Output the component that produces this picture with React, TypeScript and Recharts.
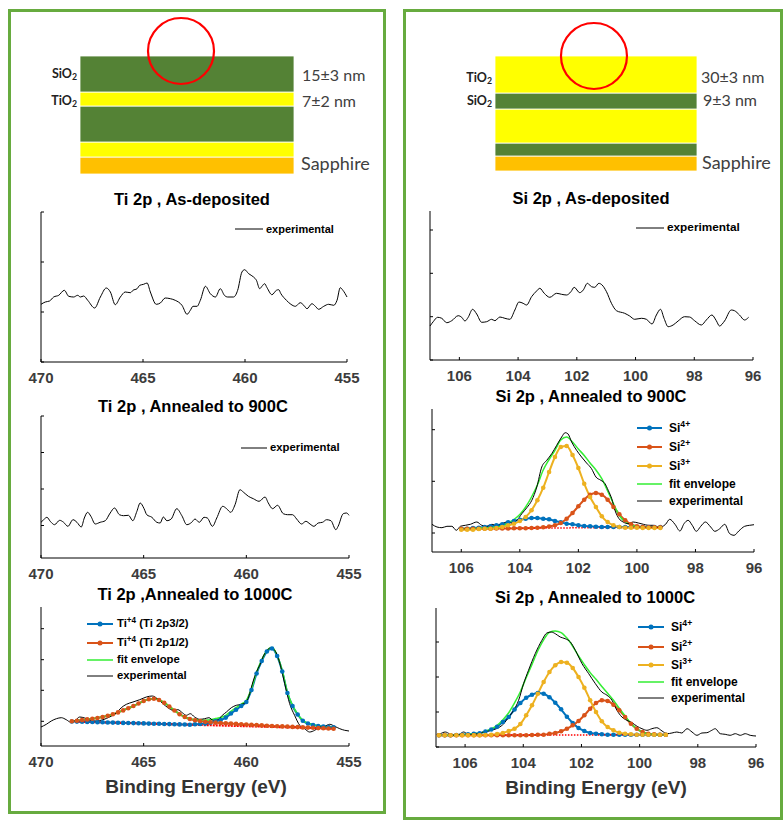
import React from "react";
import { LineChart, Line, XAxis, YAxis, Legend, BarChart, Bar, ReferenceDot } from "recharts";

const FONT = "Arial, 'Liberation Sans', Helvetica, sans-serif";
const CAL = "Lato, 'Open Sans', sans-serif";
const BLUE = "#0072BD";
const ORANGE = "#D95319";
const GOLD = "#EDB120";
const FIT = "#33ee33";
const BOX = "#67ab3f";
const SIO2 = "#548235";
const TIO2 = "#FFFF00";
const SAPPHIRE = "#FFC000";

// ---------- layer stacks (bottom layer first, drawn thickness) ----------
const leftStackMaterials = ["Sapphire", "TiO2", "SiO2", "TiO2", "SiO2"];
const leftStackThickness = [17, 15, 36, 14, 36];
const rightStackMaterials = ["Sapphire", "SiO2", "TiO2", "SiO2", "TiO2"];
const rightStackThickness = [15, 13, 34, 16, 37];

// ---------- energy ticks ----------
const tiTicks = [455, 460, 465, 470];
const siTicks = [96, 98, 100, 102, 104, 106];

// ---------- Ti 2p, as-deposited ----------
const tiAsDepE = [470.0, 469.79, 469.58, 469.38, 469.13, 468.86, 468.64, 468.4, 468.2, 468.07, 467.91, 467.71, 467.37, 467.09, 466.8, 466.6, 466.36, 466.11, 465.87, 465.62, 465.49, 465.29, 465.16, 464.97, 464.8, 464.64, 464.35, 464.15, 463.91, 463.66, 463.42, 463.09, 462.84, 462.68, 462.55, 462.35, 462.19, 461.94, 461.7, 461.45, 461.21, 461.01, 460.85, 460.56, 460.36, 460.15, 460.02, 459.82, 459.58, 459.44, 459.28, 459.17, 459.04, 458.92, 458.68, 458.46, 458.35, 458.24, 457.97, 457.75, 457.53, 457.29, 457.12, 456.96, 456.72, 456.55, 456.39, 456.14, 455.9, 455.65, 455.49, 455.33, 455.2, 455.0];
const tiAsDepI = [57.7, 60, 61, 65, 66.7, 71.7, 65.7, 65, 66.7, 65, 66, 61.7, 54, 65, 74, 70, 57.3, 65, 70, 69.3, 71.7, 73.3, 76.7, 77.7, 79, 70, 57.7, 59, 64, 63.3, 61.7, 56.7, 47.7, 51.7, 55.7, 55.7, 61.7, 75.7, 68.3, 65, 73.3, 66.7, 65, 65, 71.7, 90, 92.3, 88.3, 85, 81.7, 73.3, 75.7, 78.3, 74.3, 67.3, 71.7, 72.3, 68.3, 61.7, 57.7, 55.7, 59.3, 56.7, 53.3, 58.3, 55.7, 52.7, 55.7, 57.7, 56.7, 61.7, 74.3, 71.7, 65];

// ---------- Ti 2p, annealed 900C ----------
const ti900E = [470.0, 469.87, 469.71, 469.55, 469.34, 469.09, 468.9, 468.69, 468.44, 468.25, 468.04, 467.89, 467.73, 467.57, 467.36, 467.12, 466.87, 466.63, 466.42, 466.18, 465.98, 465.74, 465.53, 465.33, 465.17, 464.98, 464.85, 464.6, 464.36, 464.2, 464.04, 463.87, 463.66, 463.39, 463.14, 462.9, 462.66, 462.5, 462.29, 462.06, 461.9, 461.65, 461.44, 461.15, 460.96, 460.76, 460.55, 460.31, 460.15, 459.9, 459.66, 459.38, 459.09, 458.93, 458.72, 458.48, 458.2, 457.99, 457.75, 457.55, 457.31, 457.1, 456.9, 456.71, 456.5, 456.29, 456.09, 455.88, 455.64, 455.53, 455.28, 455.12, 455.0];
const ti900I = [35.7, 38.3, 40.7, 36.7, 33.3, 37.7, 35.7, 31.7, 38.3, 35.7, 31, 40, 45.7, 41.7, 34, 35.7, 37.3, 45, 50, 43.3, 42.3, 42.7, 37.3, 46.7, 55, 49.3, 43.3, 40.7, 35.7, 35, 41, 37.3, 39, 49.3, 42.3, 33.3, 35.7, 39, 35.7, 40.7, 40, 31.7, 40, 51.7, 49.3, 45.7, 53.3, 68.3, 66, 61.7, 59.3, 56.7, 61, 55, 49.3, 52.7, 44.3, 43.3, 43.3, 39, 34, 36.7, 34, 31.7, 35, 35.7, 38.3, 37.3, 28.3, 31.7, 44.3, 45, 42.7];

// ---------- Ti 2p, annealed 1000C ----------
const ti1000E = [470.0, 469.74, 469.5, 469.25, 469.01, 468.77, 468.57, 468.36, 468.12, 467.87, 467.63, 467.31, 466.98, 466.66, 466.33, 466.09, 465.84, 465.52, 465.19, 464.87, 464.58, 464.3, 464.06, 463.82, 463.57, 463.33, 463.12, 462.92, 462.73, 462.52, 462.27, 462.03, 461.82, 461.62, 461.38, 461.17, 460.97, 460.73, 460.49, 460.24, 460.0, 459.84, 459.68, 459.51, 459.35, 459.19, 459.03, 458.83, 458.7, 458.54, 458.34, 458.13, 457.89, 457.65, 457.4, 457.16, 456.92, 456.67, 456.43, 456.19, 455.94, 455.7, 455.45, 455.21, 455.0];
const ti1000I = [19, 21.7, 25, 27.3, 28.3, 26.3, 24, 25, 29, 28, 25.7, 25, 26.3, 29, 33, 38.3, 41.7, 44, 46.3, 49, 50, 46.7, 42.3, 38.3, 35.7, 36.3, 33.3, 30.7, 32.3, 29, 26.7, 27.3, 28.3, 25.7, 26.3, 30.7, 34, 38.3, 40.7, 41.7, 44, 52.3, 64, 74, 80.7, 89, 94.7, 98, 97.3, 93, 80.7, 62.3, 42.3, 30.7, 20.7, 17.3, 14, 15.7, 19, 19.7, 21.7, 19.7, 17.3, 15.7, 15];
const tiFitE = [468.5, 468.25, 468, 467.75, 467.5, 467.25, 467, 466.75, 466.5, 466.25, 466, 465.75, 465.5, 465.25, 465, 464.75, 464.5, 464.25, 464, 463.75, 463.5, 463.25, 463, 462.75, 462.5, 462.25, 462, 461.75, 461.5, 461.25, 461, 460.75, 460.5, 460.25, 460, 459.75, 459.5, 459.25, 459, 458.75, 458.5, 458.25, 458, 457.75, 457.5, 457.25, 457, 456.75, 456.5, 456.25, 456, 455.75];
const ti2p32 = [24.5, 24.4, 24.2, 24.1, 24.0, 23.8, 23.7, 23.5, 23.4, 23.3, 23.1, 23.0, 22.9, 22.7, 22.6, 22.4, 22.3, 22.2, 22.0, 21.9, 21.8, 21.6, 21.5, 21.3, 21.7, 22.1, 22.4, 23.3, 24.7, 26, 28.4, 32.5, 36.3, 40, 44, 56, 72.5, 85, 94.5, 97.5, 90, 74.5, 53, 40, 31.5, 25.3, 22.5, 21, 20, 19.4, 19, 18.8];
const ti2p12 = [24.8, 25.3, 25.9, 26.6, 27.3, 28, 29, 30.2, 31.8, 33.6, 35.6, 37.8, 40, 42.5, 45, 46.7, 47.2, 46, 43.3, 39.5, 35.5, 31.8, 29, 27, 25.8, 25, 24.3, 23.8, 23.4, 23, 22.7, 22.4, 22.1, 21.8, 21.5, 21.2, 20.9, 20.6, 20.3, 20, 19.8, 19.6, 19.4, 19.1, 18.9, 18.6, 18.4, 18.2, 17.9, 17.7, 17.5, 17.3];
const tiEnvelope = [24.8, 25.3, 25.9, 26.6, 27.3, 28, 29, 30.2, 31.8, 33.6, 35.6, 37.8, 40, 42.5, 45, 46.7, 47.2, 46, 43.3, 39.5, 35.5, 31.8, 29, 27, 26.3, 26, 25.8, 26.3, 27.4, 28.5, 30.7, 34.7, 38.3, 41.8, 45.7, 57.5, 73.8, 86.2, 95.5, 98.4, 90.8, 75.2, 53.7, 40.5, 31.9, 25.6, 22.7, 21.2, 20, 19.4, 19, 18.8];
const tiBgE = [468.5, 455.75];
const tiBgI = [24.5, 17.5];

// ---------- Si 2p, as-deposited ----------
const siAsDepE = [107.0, 106.89, 106.74, 106.6, 106.43, 106.26, 106.04, 105.92, 105.81, 105.7, 105.55, 105.41, 105.24, 105.07, 104.9, 104.79, 104.62, 104.45, 104.28, 104.11, 103.97, 103.83, 103.71, 103.54, 103.37, 103.26, 103.11, 102.92, 102.69, 102.52, 102.35, 102.2, 102.09, 101.9, 101.78, 101.64, 101.5, 101.39, 101.25, 101.14, 100.99, 100.82, 100.65, 100.37, 100.2, 100.03, 99.8, 99.63, 99.44, 99.29, 99.15, 99.03, 98.89, 98.72, 98.55, 98.33, 98.16, 97.99, 97.76, 97.59, 97.4, 97.25, 97.14, 96.97, 96.74, 96.63, 96.46, 96.29, 96.15];
const siAsDepI = [34, 38.3, 42.7, 41.7, 37.3, 39.3, 44.3, 42.7, 39, 42.7, 50.7, 46, 37.7, 38.3, 40.7, 39.3, 43, 41.7, 40.7, 50, 58, 56.7, 55, 63.3, 69, 71.7, 66.7, 62.7, 66.7, 65.7, 65, 68.3, 72.7, 67.3, 70, 76.7, 73.3, 72.7, 76.7, 75, 68.3, 56.7, 49.3, 46.7, 44, 40.7, 41.7, 40.7, 36, 45, 50.7, 41.7, 33.3, 35, 39, 43.3, 43, 39.3, 35, 40, 45, 39.3, 34, 39, 50, 49.3, 45, 40, 42.7];

// ---------- Si 2p, annealed 900C ----------
const si900E = [107.0, 106.83, 106.66, 106.49, 106.32, 106.17, 106.03, 105.86, 105.69, 105.47, 105.3, 105.13, 104.95, 104.78, 104.61, 104.44, 104.27, 104.1, 103.93, 103.76, 103.59, 103.42, 103.25, 103.08, 102.91, 102.74, 102.57, 102.45, 102.36, 102.23, 102.06, 101.89, 101.72, 101.55, 101.4, 101.23, 101.09, 100.98, 100.86, 100.75, 100.61, 100.47, 100.3, 100.13, 99.95, 99.78, 99.61, 99.44, 99.27, 99.16, 99.02, 98.88, 98.7, 98.53, 98.39, 98.25, 98.11, 97.97, 97.82, 97.66, 97.48, 97.34, 97.17, 97.0, 96.83, 96.68, 96.52, 96.32, 96.15, 96.0];
const si900I = [27.7, 25, 24.3, 25.7, 25.7, 21.7, 25.7, 26.7, 27.7, 30, 26.7, 25.7, 27.7, 26.3, 28.3, 30, 29, 31.7, 38.3, 44.3, 51.7, 65, 85, 91.7, 98.3, 106.7, 115, 119.3, 118.3, 110, 101.7, 95, 89, 83.3, 75, 71.7, 68.3, 61.7, 53.3, 41.7, 33.3, 30, 28.3, 30, 29, 27.7, 26.7, 26.7, 24.3, 25, 27.7, 32.7, 27.7, 21, 28.3, 31.7, 26.7, 20.7, 25.7, 30, 25, 20.7, 23.3, 27.7, 18.3, 16.7, 21, 25.7, 26.7, 27.3];
const si900FitE = [106, 105.8, 105.6, 105.4, 105.2, 105, 104.8, 104.6, 104.4, 104.2, 104, 103.8, 103.6, 103.4, 103.2, 103, 102.8, 102.6, 102.4, 102.2, 102, 101.8, 101.6, 101.4, 101.2, 101, 100.8, 100.6, 100.4, 100.2, 100, 99.8, 99.6, 99.4, 99.2];
const si900Si4 = [23.3, 23.3, 24, 24.3, 25, 25.7, 26.7, 27.7, 29.7, 31, 32.3, 33.3, 34, 34, 33.3, 32.7, 31, 29.7, 28.3, 27.7, 26.7, 26, 25.7, 25.3, 25, 25, 25, 25, 25, 25, 25, 25, 25, 25, 25];
const si900Si2 = [23.3, 23.3, 23.3, 23.3, 23.3, 23.3, 23.5, 23.5, 23.5, 23.7, 23.7, 23.8, 24, 24.3, 24.7, 25.5, 26.7, 29, 33.3, 39, 45.7, 52.3, 57.3, 59, 57.3, 52.3, 45, 37.7, 31.7, 27.7, 25.7, 25, 24.8, 24.8, 24.8];
const si900Si3 = [22.3, 22.3, 22.3, 23, 23.3, 23.3, 24, 25, 26.7, 28.3, 31, 35, 41.7, 51.7, 64.3, 80, 95, 105, 106, 97, 84, 68.3, 55, 45, 35.7, 30, 26.7, 25, 24.3, 24.3, 24.3, 24, 24, 24, 24];
const si900Envelope = [23.3, 23.5, 23.7, 24, 24.3, 24.6, 25.2, 26.5, 29, 32.5, 37.5, 45, 55, 67, 82, 92.5, 101.7, 112, 115, 110, 103, 96.5, 89, 82, 73.3, 61, 48.3, 36.5, 30, 27, 25.7, 25, 25, 25, 25];
const si900BgE = [106, 99.2];
const si900BgI = [23.3, 24.8];

// ---------- Si 2p, annealed 1000C ----------
const si1000E = [107.0, 106.85, 106.68, 106.54, 106.36, 106.2, 106.05, 105.9, 105.71, 105.53, 105.36, 105.19, 105.02, 104.85, 104.67, 104.5, 104.33, 104.16, 103.99, 103.82, 103.59, 103.36, 103.19, 103.04, 102.9, 102.73, 102.56, 102.38, 102.21, 101.98, 101.75, 101.52, 101.3, 101.12, 100.95, 100.78, 100.61, 100.44, 100.26, 100.09, 99.92, 99.75, 99.58, 99.41, 99.23, 99.06, 98.89, 98.72, 98.55, 98.37, 98.2, 98.03, 97.86, 97.69, 97.52, 97.4, 97.23, 97.06, 96.89, 96.71, 96.54, 96.37, 96.2, 96.0];
const si1000I = [11.7, 13.3, 15, 13.3, 11.7, 12.7, 15, 12.7, 12.3, 14, 15, 16, 17.3, 19.3, 23.3, 30, 36.7, 46.7, 63.3, 76.7, 93.3, 106.7, 114, 115, 113.3, 110, 108.3, 105, 96.7, 83.3, 73.3, 63.3, 55, 51.7, 46.7, 36.7, 30, 26.7, 24.3, 20.7, 18.3, 16.7, 18.3, 19.3, 16, 13.3, 14, 15, 14, 18.3, 15, 11.7, 14, 14.3, 16.7, 18.3, 13.3, 12.7, 11.7, 13.3, 11.7, 13.3, 11.7, 11];
const si1000FitE = [106.9, 106.7, 106.5, 106.3, 106.1, 105.9, 105.7, 105.5, 105.3, 105.1, 104.9, 104.7, 104.5, 104.3, 104.1, 103.9, 103.7, 103.5, 103.3, 103.1, 102.9, 102.7, 102.5, 102.3, 102.1, 101.9, 101.7, 101.5, 101.3, 101.1, 100.9, 100.7, 100.5, 100.3, 100.1, 99.9, 99.7, 99.5, 99.3, 99.1];
const si1000Si4 = [11.7, 11.7, 11.7, 12, 12.3, 12.7, 13.3, 13.7, 15.5, 17.5, 20.3, 25, 30, 37.5, 44, 49.3, 52.3, 54, 53.3, 49.7, 44.3, 37.7, 30.3, 24, 19, 16, 14, 13.3, 12.7, 12.3, 12.3, 12.3, 12.3, 12.3, 12.3, 12.3, 12.3, 12.3, 12.3, 12.3];
const si1000Si2 = [11.7, 11.7, 11.7, 11.7, 11.7, 11.7, 11.7, 11.7, 11.7, 11.7, 11.7, 11.7, 11.7, 11.7, 11.7, 11.7, 12, 12.3, 12.3, 13.3, 14, 15.7, 18.3, 21.7, 26, 31.7, 38.3, 44, 46.7, 46, 42.3, 36.7, 30, 23.3, 18.3, 15, 13.3, 12.7, 12.3, 12.3];
const si1000Si3 = [11.7, 11.7, 11.7, 11.7, 11.7, 11.7, 11.7, 11.7, 12, 12.3, 13, 14, 16, 18.3, 23, 31.7, 41.7, 53.3, 65, 75, 81.7, 85, 84.3, 79, 70, 59.3, 46.7, 35, 25.7, 20, 16.7, 14.3, 13.3, 12.7, 12.3, 12.3, 12.3, 12.3, 12.3, 12.3];
const si1000Envelope = [11.7, 11.7, 11.7, 12, 12.3, 12.7, 13.3, 13.7, 15.8, 18.1, 21.6, 27.3, 34.3, 44.1, 55.3, 69.3, 82.6, 96.2, 107.2, 114.6, 116, 114.4, 108.9, 100.7, 91, 82.4, 74.4, 67.7, 60.5, 53.7, 46.7, 38.7, 31, 23.7, 18.3, 15, 13.3, 12.7, 12.3, 12.3];
const si1000BgE = [106.9, 99.1];
const si1000BgI = [11.7, 12.3];

type Pt = { x: number; y: number };
const pts = (xs: number[], ys: number[]): Pt[] => xs.map((x, i) => ({ x, y: ys[i] }));

interface Series {
  data: Pt[];
  color: string;
  width: number;
  dots?: boolean;
  dash?: string;
}
interface LegendRow {
  label: React.ReactNode;
  color: string;
  h: number;
  dots?: boolean;
  width?: number;
}
interface LegendSpec {
  x: number;
  y: number;
  lineW: number;
  gap: number;
  size: number;
  rows: LegendRow[];
}
interface PanelProps {
  ax: number;
  top: number;
  right: number;
  bottom: number;
  xDomain: [number, number];
  xTicks: number[];
  yMax: number;
  yTicks: number[];
  series: Series[];
  legend: LegendSpec;
}

const Sup = ({ children }: { children: React.ReactNode }) => (
  <sup style={{ fontSize: "0.72em", lineHeight: 0, verticalAlign: "0.55em" }}>{children}</sup>
);
const Sub = ({ children }: { children: React.ReactNode }) => (
  <sub style={{ fontSize: "0.7em", lineHeight: 0, verticalAlign: "-0.25em" }}>{children}</sub>
);

// inward tick + bold label for the energy axis
const EnergyTick = (props: any) => {
  const { x, y, payload } = props;
  return (
    <g>
      <line x1={x} x2={x} y1={y} y2={y - 3} stroke="#000" />
      <text x={x} y={y + 21} textAnchor="middle" fill="#3c3c3c" fontSize={15} fontWeight={700} fontFamily={FONT}>
        {payload.value}
      </text>
    </g>
  );
};
// inward tick only, no label, for the intensity axis
const IntensityTick = (props: any) => (
  <line x1={props.x} x2={props.x + 3} y1={props.y} y2={props.y} stroke="#000" />
);

function LegendBox({ lineW, gap, size, rows }: LegendSpec) {
  return (
    <div style={{ fontFamily: FONT, fontWeight: 700, fontSize: size, color: "#000" }}>
      {rows.map((r, i) => (
        <div key={i} style={{ display: "flex", alignItems: "center", height: r.h }}>
          <svg width={lineW} height={8} style={{ display: "block", marginRight: gap, overflow: "visible" }}>
            <line x1={0} y1={4} x2={lineW} y2={4} stroke={r.color} strokeWidth={r.width ?? 1} />
            {r.dots && <circle cx={lineW / 2} cy={4} r={2.5} fill={r.color} />}
          </svg>
          <span style={{ whiteSpace: "nowrap", lineHeight: 1 }}>{r.label}</span>
        </div>
      ))}
    </div>
  );
}

function Panel(p: PanelProps) {
  const PL = 30;
  const PR = 30;
  const PT = 10;
  const XH = 34;
  const w = p.right - p.ax + PL + PR;
  const h = p.bottom - p.top + PT + XH;
  const left = p.ax - PL;
  const top = p.top - PT;
  return (
    <div style={{ position: "absolute", left, top }}>
      <LineChart width={w} height={h} margin={{ top: PT, right: PR, bottom: 0, left: PL - 1 }}>
        <XAxis
          type="number"
          dataKey="x"
          domain={p.xDomain}
          ticks={p.xTicks}
          interval={0}
          reversed
          stroke="#000"
          tickLine={false}
          tickSize={0}
          tickMargin={0}
          height={XH}
          tick={EnergyTick}
        />
        <YAxis
          type="number"
          domain={[0, p.yMax]}
          ticks={p.yTicks}
          width={1}
          stroke="#000"
          tickLine={false}
          tickSize={0}
          tickMargin={0}
          tick={IntensityTick}
        />
        {p.series.map((s, i) => (
          <Line
            key={i}
            data={s.data}
            dataKey="y"
            type={s.dash ? "linear" : "monotone"}
            stroke={s.color}
            strokeWidth={s.width}
            strokeDasharray={s.dash}
            dot={s.dots ? { r: 2.3, fill: s.color, stroke: s.color, strokeWidth: 0 } : false}
            activeDot={false}
            isAnimationActive={false}
          />
        ))}
        <Legend
          layout="vertical"
          align="center"
          verticalAlign="middle"
          wrapperStyle={{ left: p.legend.x - left, top: p.legend.y - top, width: "auto" }}
          content={() => <LegendBox {...p.legend} />}
        />
      </LineChart>
    </div>
  );
}

function Stack({ x, y, w, h, materials, thickness, ring }: {
  x: number; y: number; w: number; h: number;
  materials: string[]; thickness: number[]; ring: { x: number; y: number };
}) {
  const MT = 45;
  const colorOf = (m: string) => (m === "SiO2" ? SIO2 : m === "TiO2" ? TIO2 : SAPPHIRE);
  const row: Record<string, string | number> = { name: "film", pos: 50 };
  thickness.forEach((t, i) => (row["layer" + i] = t));
  const total = thickness.reduce((a, b) => a + b, 0);
  return (
    <div style={{ position: "absolute", left: x, top: y - MT }}>
      <BarChart width={w} height={h + MT} data={[row]} margin={{ top: MT, right: 0, bottom: 0, left: 0 }} barCategoryGap={0}>
        <XAxis dataKey="name" hide />
        <XAxis xAxisId="pos" dataKey="pos" type="number" domain={[0, 100]} allowDataOverflow hide />
        <YAxis domain={[0, total]} hide />
        {materials.map((m, i) => (
          <Bar key={i} dataKey={"layer" + i} stackId="s" fill={colorOf(m)} stroke="#ffffff" strokeWidth={0.8} isAnimationActive={false} />
        ))}
        <ReferenceDot xAxisId="pos" x={ring.x} y={ring.y} r={33} fill="none" stroke="#ff0000" strokeWidth={2.2} ifOverflow="visible" />
      </BarChart>
    </div>
  );
}

function Txt({ x, y, size, children, weight = 400, align = "left", color = "#000", family = FONT }: {
  x: number; y: number; size: number; children: React.ReactNode;
  weight?: number; align?: "left" | "center" | "right"; color?: string; family?: string;
}) {
  const W = 320;
  const left = align === "left" ? x : align === "center" ? x - W / 2 : x - W;
  return (
    <div
      style={{
        position: "absolute", left, top: y - size, width: W, height: size * 2, lineHeight: `${size * 2}px`,
        textAlign: align, fontSize: size, fontWeight: weight, color, fontFamily: family, whiteSpace: "nowrap",
      }}
    >
      {children}
    </div>
  );
}

export default function App() {
  const expRow = (h: number): LegendRow => ({ label: "experimental", color: "#000", h });
  return (
    <div style={{ position: "absolute", left: 0, top: 0, width: 783, height: 825, background: "#fff", overflow: "hidden" }}>
      <div style={{ position: "absolute", left: 8, top: 9, width: 378, height: 805, border: `3px solid ${BOX}`, boxSizing: "border-box" }} />
      <div style={{ position: "absolute", left: 403, top: 9, width: 380, height: 811, border: `3px solid ${BOX}`, boxSizing: "border-box" }} />

      {/* layer schematics */}
      <Stack x={80} y={56} w={214} h={118} materials={leftStackMaterials} thickness={leftStackThickness} ring={{ x: 47.2, y: 123 }} />
      <Stack x={495} y={56} w={202} h={115} materials={rightStackMaterials} thickness={rightStackThickness} ring={{ x: 49, y: 115 }} />
      <Txt x={77} y={73} size={12.5} weight={700} align="right" family={CAL} color="#222">SiO<Sub>2</Sub></Txt>
      <Txt x={77} y={100} size={12.5} weight={700} align="right" family={CAL} color="#222">TiO<Sub>2</Sub></Txt>
      <Txt x={302} y={75} size={16} family={CAL} color="#404040">15±3 nm</Txt>
      <Txt x={302} y={101} size={16} family={CAL} color="#404040">7±2 nm</Txt>
      <Txt x={301} y={163} size={18} family={CAL} color="#404040">Sapphire</Txt>
      <Txt x={492} y={77} size={12.5} weight={700} align="right" family={CAL} color="#222">TiO<Sub>2</Sub></Txt>
      <Txt x={492} y={100} size={12.5} weight={700} align="right" family={CAL} color="#222">SiO<Sub>2</Sub></Txt>
      <Txt x={701} y={77} size={16} family={CAL} color="#404040">30±3 nm</Txt>
      <Txt x={703} y={100} size={16} family={CAL} color="#404040">9±3 nm</Txt>
      <Txt x={702} y={162} size={18} family={CAL} color="#404040">Sapphire</Txt>

      {/* titles */}
      <Txt x={192} y={199} size={16.5} weight={700} align="center">Ti 2p , As-deposited</Txt>
      <Txt x={193} y={406} size={16.5} weight={700} align="center">Ti 2p , Annealed to 900C</Txt>
      <Txt x={195} y={594} size={16.5} weight={700} align="center">Ti 2p ,Annealed to 1000C</Txt>
      <Txt x={591} y={198} size={16.5} weight={700} align="center">Si 2p , As-deposited</Txt>
      <Txt x={591} y={396} size={16.5} weight={700} align="center">Si 2p , Annealed to 900C</Txt>
      <Txt x={595} y={597} size={16.5} weight={700} align="center">Si 2p , Annealed to 1000C</Txt>
      <Txt x={196} y={787} size={19} weight={700} align="center" color="#333">Binding Energy (eV)</Txt>
      <Txt x={596} y={788} size={19} weight={700} align="center" color="#333">Binding Energy (eV)</Txt>

      {/* Ti panels */}
      <Panel
        ax={41} top={212} right={347} bottom={362} xDomain={[455, 470]} xTicks={tiTicks} yMax={150} yTicks={[0, 50, 100, 150]}
        series={[{ data: pts(tiAsDepE, tiAsDepI), color: "#000", width: 1 }]}
        legend={{ x: 235, y: 221, lineW: 28, gap: 3, size: 11, rows: [expRow(16)] }}
      />
      <Panel
        ax={41} top={416} right={349} bottom={558} xDomain={[455, 470]} xTicks={tiTicks} yMax={142} yTicks={[32.5, 69, 105.5, 142]}
        series={[{ data: pts(ti900E, ti900I), color: "#000", width: 1 }]}
        legend={{ x: 241, y: 440, lineW: 26, gap: 3, size: 11.3, rows: [expRow(16)] }}
      />
      <Panel
        ax={41} top={607} right={349} bottom={746} xDomain={[455, 470]} xTicks={tiTicks} yMax={139} yTicks={[24.7, 55.7, 86.3, 117.3]}
        series={[
          { data: pts(tiFitE, ti2p32), color: BLUE, width: 2, dots: true },
          { data: pts(tiFitE, ti2p12), color: ORANGE, width: 2, dots: true },
          { data: pts(tiFitE, tiEnvelope), color: FIT, width: 1.5 },
          { data: pts(ti1000E, ti1000I), color: "#000", width: 1 },
          { data: pts(tiBgE, tiBgI), color: "#ff0000", width: 2.2, dash: "2 1" },
        ]}
        legend={{
          x: 87, y: 614, lineW: 26, gap: 4, size: 11.3,
          rows: [
            { label: <>Ti<Sup>+4</Sup> (Ti 2p3/2)</>, color: BLUE, h: 19, dots: true, width: 2 },
            { label: <>Ti<Sup>+4</Sup> (Ti 2p1/2)</>, color: ORANGE, h: 19, dots: true, width: 2 },
            { label: "fit envelope", color: FIT, h: 16, width: 1.5 },
            expRow(16),
          ],
        }}
      />

      {/* Si panels */}
      <Panel
        ax={430} top={211} right={753} bottom={360} xDomain={[96, 107]} xTicks={siTicks} yMax={149} yTicks={[0, 43.3, 86.7, 130]}
        series={[{ data: pts(siAsDepE, siAsDepI), color: "#000", width: 1 }]}
        legend={{ x: 636, y: 220, lineW: 28, gap: 3, size: 11.8, rows: [expRow(16)] }}
      />
      <Panel
        ax={432} top={409} right={754} bottom={552} xDomain={[96, 107]} xTicks={siTicks} yMax={143} yTicks={[19, 70.7, 122.3]}
        series={[
          { data: pts(si900FitE, si900Si4), color: BLUE, width: 2, dots: true },
          { data: pts(si900FitE, si900Si2), color: ORANGE, width: 2, dots: true },
          { data: pts(si900FitE, si900Si3), color: GOLD, width: 2, dots: true },
          { data: pts(si900FitE, si900Envelope), color: FIT, width: 1.5 },
          { data: pts(si900E, si900I), color: "#000", width: 1 },
          { data: pts(si900BgE, si900BgI), color: "#ff0000", width: 1.5, dash: "1.5 1.5" },
        ]}
        legend={{
          x: 637, y: 418.5, lineW: 25, gap: 7, size: 12,
          rows: [
            { label: <>Si<Sup>4+</Sup></>, color: BLUE, h: 19, dots: true, width: 2 },
            { label: <>Si<Sup>2+</Sup></>, color: ORANGE, h: 19, dots: true, width: 2 },
            { label: <>Si<Sup>3+</Sup></>, color: GOLD, h: 19, dots: true, width: 2 },
            { label: "fit envelope", color: FIT, h: 17, width: 1.5 },
            expRow(16),
          ],
        }}
      />
      <Panel
        ax={436} top={608} right={756} bottom={747} xDomain={[96, 107]} xTicks={siTicks} yMax={139} yTicks={[0, 35, 70, 105]}
        series={[
          { data: pts(si1000FitE, si1000Si4), color: BLUE, width: 2, dots: true },
          { data: pts(si1000FitE, si1000Si2), color: ORANGE, width: 2, dots: true },
          { data: pts(si1000FitE, si1000Si3), color: GOLD, width: 2, dots: true },
          { data: pts(si1000FitE, si1000Envelope), color: FIT, width: 1.5 },
          { data: pts(si1000E, si1000I), color: "#000", width: 1 },
          { data: pts(si1000BgE, si1000BgI), color: "#ff0000", width: 1.5, dash: "1.5 1.5" },
        ]}
        legend={{
          x: 638, y: 617, lineW: 26, gap: 7, size: 12,
          rows: [
            { label: <>Si<Sup>4+</Sup></>, color: BLUE, h: 20, dots: true, width: 2 },
            { label: <>Si<Sup>2+</Sup></>, color: ORANGE, h: 19, dots: true, width: 2 },
            { label: <>Si<Sup>3+</Sup></>, color: GOLD, h: 18, dots: true, width: 2 },
            { label: "fit envelope", color: FIT, h: 16, width: 1.5 },
            expRow(16),
          ],
        }}
      />
    </div>
  );
}
